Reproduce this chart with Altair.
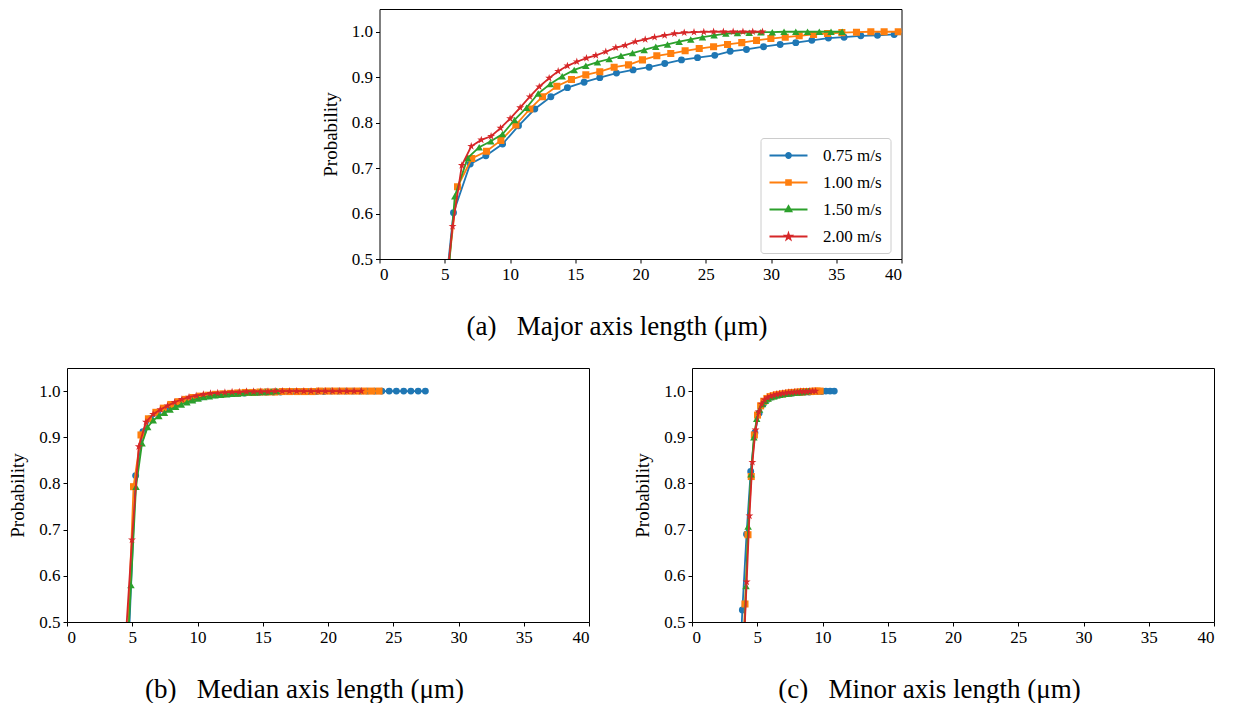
import altair as alt
import pandas as pd

FONT = "Liberation Serif"
SERIES = ["0.75 m/s", "1.00 m/s", "1.50 m/s", "2.00 m/s"]
COLORS = ["#1f77b4", "#ff7f0e", "#2ca02c", "#d62728"]
X_TICKS = [0, 5, 10, 15, 20, 25, 30, 35, 40]
Y_TICKS = [0.5, 0.6, 0.7, 0.8, 0.9, 1.0]
SP = "\u00a0\u00a0\u00a0"
CAPTIONS = ["(a)" + SP + "Major axis length (\u03bcm)",
            "(b)" + SP + "Median axis length (\u03bcm)",
            "(c)" + SP + "Minor axis length (\u03bcm)"]

# ---------------- (a) Major axis length ----------------
blue_a_x = [4.4, 5.67, 6.95, 8.15, 9.43, 10.65, 11.9, 13.13, 14.4, 15.68, 16.88, 18.16, 19.43, 20.66, 21.86, 23.14, 24.37, 25.69, 26.87, 28.12, 29.43, 30.7, 31.9, 33.13, 34.4, 35.6, 36.88, 38.16, 39.44, 40.7, 41.9]
blue_a_y = [0.252, 0.602, 0.709, 0.727, 0.753, 0.793, 0.83, 0.857, 0.877, 0.889, 0.899, 0.909, 0.916, 0.922, 0.93, 0.938, 0.943, 0.948, 0.957, 0.961, 0.967, 0.972, 0.976, 0.981, 0.986, 0.988, 0.991, 0.992, 0.994, 0.996, 0.997]
orange_a_x = [4.88, 5.98, 7.07, 8.2, 9.3, 10.45, 11.52, 12.49, 13.59, 14.71, 15.81, 16.88, 17.98, 19.08, 20.15, 21.25, 22.32, 23.42, 24.5, 25.6, 26.67, 27.76, 28.89, 29.99, 31.09, 32.16, 33.26, 34.33, 35.43, 36.55, 37.65, 38.67, 39.75, 40.85]
orange_a_y = [0.38, 0.659, 0.721, 0.737, 0.761, 0.795, 0.83, 0.857, 0.88, 0.895, 0.905, 0.912, 0.922, 0.927, 0.938, 0.947, 0.952, 0.958, 0.963, 0.967, 0.972, 0.976, 0.981, 0.985, 0.988, 0.991, 0.994, 0.996, 0.998, 0.999, 1.0, 1.0, 1.0, 1.0]
green_a_x = [4.9, 5.77, 6.75, 7.64, 8.53, 9.43, 10.35, 11.27, 12.16, 13.08, 14.0, 14.92, 15.81, 16.7, 17.6, 18.5, 19.39, 20.28, 21.17, 22.07, 22.96, 23.85, 24.75, 25.64, 26.54, 27.43, 28.33, 29.22, 30.1, 31.0, 31.9, 32.8, 33.7, 34.6, 35.45]
green_a_y = [0.33, 0.638, 0.722, 0.746, 0.759, 0.775, 0.806, 0.833, 0.864, 0.885, 0.902, 0.916, 0.925, 0.933, 0.94, 0.947, 0.953, 0.96, 0.967, 0.972, 0.978, 0.983, 0.988, 0.992, 0.996, 0.997, 0.998, 0.999, 0.999, 1.0, 1.0, 1.0, 1.0, 1.0, 1.0]
red_a_x = [4.86, 5.6, 6.31, 7.03, 7.8, 8.55, 9.27, 10.01, 10.78, 11.52, 12.24, 13.0, 13.69, 14.4, 15.12, 15.86, 16.58, 17.34, 18.11, 18.83, 19.6, 20.36, 21.08, 21.85, 22.6, 23.35, 24.1, 24.85, 25.6, 26.35, 27.1, 27.85, 28.6, 29.35]
red_a_y = [0.37, 0.572, 0.706, 0.748, 0.762, 0.77, 0.788, 0.809, 0.833, 0.857, 0.879, 0.898, 0.913, 0.925, 0.934, 0.942, 0.948, 0.956, 0.965, 0.97, 0.978, 0.983, 0.988, 0.992, 0.996, 0.998, 0.999, 0.9995, 1.0, 1.0, 1.0, 1.0, 1.0, 1.0]

# ---------------- (b) Median axis length ----------------
blue_b_x = [4.5, 5.26, 5.82, 6.37, 6.93, 7.48, 8.04, 8.59, 9.15, 9.70, 10.26, 10.81, 11.37, 11.92, 12.48, 13.03, 13.59, 14.14, 14.70, 15.25, 15.81, 16.36, 16.92, 17.47, 18.03, 18.58, 19.14, 19.69, 20.25, 20.80, 21.36, 21.91, 22.47, 23.02, 23.58, 24.13, 24.69, 25.24, 25.80, 26.35, 26.91, 27.46]
blue_b_y = [0.30, 0.817, 0.912, 0.940, 0.952, 0.960, 0.967, 0.973, 0.978, 0.983, 0.987, 0.990, 0.992, 0.993, 0.994, 0.995, 0.996, 0.997, 0.997, 0.998, 0.998, 0.998, 0.999, 0.999, 0.999, 0.999, 0.999, 0.999, 1.0, 1.0, 1.0, 1.0, 1.0, 1.0, 1.0, 1.0, 1.0, 1.0, 1.0, 1.0, 1.0, 1.0]
orange_b_x = [4.53, 5.10, 5.67, 6.24, 6.81, 7.38, 7.95, 8.52, 9.09, 9.66, 10.23, 10.80, 11.37, 11.94, 12.51, 13.08, 13.65, 14.22, 14.79, 15.36, 15.93, 16.50, 17.07, 17.64, 18.21, 18.78, 19.35, 19.92, 20.49, 21.06, 21.63, 22.20, 22.77, 23.34, 23.91]
orange_b_y = [0.38, 0.793, 0.905, 0.940, 0.954, 0.963, 0.971, 0.977, 0.982, 0.986, 0.989, 0.991, 0.993, 0.994, 0.995, 0.996, 0.997, 0.997, 0.998, 0.998, 0.998, 0.999, 0.999, 0.999, 0.999, 0.999, 1.0, 1.0, 1.0, 1.0, 1.0, 1.0, 1.0, 1.0, 1.0]
green_b_x = [4.47, 4.90, 5.29, 5.75, 6.18, 6.61, 7.04, 7.47, 7.90, 8.33, 8.76, 9.19, 9.62, 10.05, 10.48, 10.91, 11.34, 11.77, 12.20, 12.63, 13.06, 13.49, 13.92, 14.35, 14.78, 15.21, 15.64, 16.07]
green_b_y = [0.35, 0.58, 0.793, 0.887, 0.922, 0.937, 0.946, 0.953, 0.960, 0.966, 0.971, 0.976, 0.980, 0.984, 0.987, 0.989, 0.991, 0.992, 0.993, 0.994, 0.995, 0.996, 0.997, 0.997, 0.998, 0.998, 0.999, 1.0]
red_b_x = [4.42, 4.98, 5.50, 6.05, 6.60, 7.15, 7.70, 8.25, 8.80, 9.35, 9.90, 10.45, 11.00, 11.55, 12.10, 12.65, 13.20, 13.75, 14.30, 14.85, 15.40, 15.95, 16.50, 17.05, 17.60, 18.15, 18.70, 19.25, 19.80, 20.35, 20.90, 21.45, 22.00, 22.55]
red_b_y = [0.43, 0.678, 0.880, 0.933, 0.950, 0.960, 0.968, 0.976, 0.982, 0.987, 0.990, 0.993, 0.995, 0.996, 0.997, 0.998, 0.998, 0.999, 0.999, 0.999, 0.999, 1.0, 1.0, 1.0, 1.0, 1.0, 1.0, 1.0, 1.0, 1.0, 1.0, 1.0, 1.0, 1.0]

# ---------------- (c) Minor axis length ----------------
blue_c_x = [3.54, 3.86, 4.18, 4.50, 4.82, 5.14, 5.46, 5.78, 6.10, 6.42, 6.74, 7.06, 7.38, 7.70, 8.02, 8.34, 8.66, 8.98, 9.30, 9.62, 9.94, 10.26, 10.58, 10.90]
blue_c_y = [0.33, 0.526, 0.690, 0.826, 0.910, 0.952, 0.972, 0.982, 0.987, 0.990, 0.992, 0.994, 0.995, 0.996, 0.997, 0.997, 0.998, 0.998, 0.999, 0.999, 0.999, 1.0, 1.0, 1.0]
orange_c_x = [3.82, 4.06, 4.29, 4.54, 4.78, 5.02, 5.26, 5.50, 5.74, 5.98, 6.22, 6.46, 6.70, 6.94, 7.18, 7.42, 7.66, 7.90, 8.14, 8.38, 8.62, 8.86, 9.10, 9.34, 9.58, 9.82]
orange_c_y = [0.36, 0.539, 0.689, 0.815, 0.905, 0.948, 0.968, 0.978, 0.984, 0.988, 0.990, 0.992, 0.993, 0.994, 0.995, 0.996, 0.997, 0.997, 0.998, 0.998, 0.999, 0.999, 0.999, 1.0, 1.0, 1.0]
green_c_x = [3.94, 4.14, 4.30, 4.52, 4.74, 4.96, 5.18, 5.40, 5.62, 5.84, 6.06, 6.28, 6.50, 6.72, 6.94, 7.16, 7.38, 7.60, 7.82, 8.04, 8.26, 8.48, 8.70, 8.92]
green_c_y = [0.42, 0.578, 0.707, 0.820, 0.900, 0.940, 0.960, 0.972, 0.979, 0.984, 0.987, 0.989, 0.991, 0.992, 0.993, 0.994, 0.995, 0.996, 0.997, 0.997, 0.998, 0.998, 0.999, 1.0]
red_c_x = [3.96, 4.19, 4.40, 4.63, 4.87, 5.10, 5.33, 5.56, 5.79, 6.02, 6.25, 6.48, 6.71, 6.94, 7.17, 7.40, 7.63, 7.86, 8.09, 8.32, 8.55, 8.78, 9.01, 9.24, 9.47]
red_c_y = [0.44, 0.587, 0.730, 0.846, 0.916, 0.955, 0.972, 0.981, 0.986, 0.989, 0.991, 0.993, 0.994, 0.995, 0.996, 0.997, 0.997, 0.998, 0.998, 0.999, 0.999, 0.999, 1.0, 1.0, 1.0]

PANELS = [
    [(blue_a_x, blue_a_y), (orange_a_x, orange_a_y), (green_a_x, green_a_y), (red_a_x, red_a_y)],
    [(blue_b_x, blue_b_y), (orange_b_x, orange_b_y), (green_b_x, green_b_y), (red_b_x, red_b_y)],
    [(blue_c_x, blue_c_y), (orange_c_x, orange_c_y), (green_c_x, green_c_y), (red_c_x, red_c_y)],
]

# ---------------- marker styles ----------------
STAR_PTS = [(0, -1), (0.2245, -0.309), (0.951, -0.309), (0.363, 0.118), (0.588, 0.809),
            (0, 0.382), (-0.588, 0.809), (-0.363, 0.118), (-0.951, -0.309), (-0.2245, -0.309)]


def star_path(s):
    return "M" + "L".join(f"{x * s:.4f},{y * s:.4f}" for x, y in STAR_PTS) + "Z"


MARKERS = [("circle", 48), ("square", 50), ("triangle-up", 56), (star_path(1.0), 70)]

# legend symbol: nominal box 17 px (scale 8.5 px per unit); line spans 38 px
LINE = "M-2.235,0L2.235,0"
rc = 0.28
rs = 0.27
LEGEND_PATHS = [
    LINE + f"M{-rc},0A{rc},{rc},0,1,0,{rc},0A{rc},{rc},0,1,0,{-rc},0Z",
    LINE + f"M{-rs},{-rs}L{rs},{-rs}L{rs},{rs}L{-rs},{rs}Z",
    LINE + "M0,-0.38L0.33,0.2L-0.33,0.2Z",
    LINE + star_path(0.33),
]


def panel(idx, height, legend):
    xenc = alt.X("x:Q", scale=alt.Scale(domain=[0, 40], nice=False, zero=False),
                 axis=alt.Axis(values=X_TICKS, format="d", title=CAPTIONS[idx],
                               titleX=237, titleAlign="center", titlePadding=31,
                               titleFontSize=27))
    yenc = alt.Y("y:Q", scale=alt.Scale(domain=[0.5, 1.05], nice=False, zero=False),
                 axis=alt.Axis(values=Y_TICKS, format=".1f", title="Probability",
                               titleFontSize=19, titlePadding=11))
    layers = []
    for i, (xs, ys) in enumerate(PANELS[idx]):
        df = pd.DataFrame({"x": xs, "y": ys})
        base = alt.Chart(df).encode(x=xenc, y=yenc)
        shape, size = MARKERS[i]
        layers.append(base.mark_line(color=COLORS[i], strokeWidth=1.8, clip=True))
        layers.append(base.mark_point(shape=shape, size=size, filled=True, opacity=1,
                                      color=COLORS[i], strokeWidth=0, clip=True))
    if legend:
        leg = alt.Legend(title=None, orient="none", legendX=381, legendY=129,
                         padding=8, labelFont=FONT, labelFontSize=17, labelColor="black",
                         symbolOffset=10.5, labelOffset=25, rowPadding=9, symbolSize=289,
                         symbolStrokeWidth=2, symbolOpacity=1,
                         strokeColor="#cccccc", fillColor="white", cornerRadius=3,
                         labelLimit=300)
        dummy = (
            alt.Chart(pd.DataFrame({"series": SERIES}))
            .transform_filter("false")
            .mark_point(filled=True, size=289, strokeWidth=2, opacity=1)
            .encode(
                fill=alt.Fill("series:N", scale=alt.Scale(domain=SERIES, range=COLORS), legend=leg),
                stroke=alt.Stroke("series:N", scale=alt.Scale(domain=SERIES, range=COLORS), legend=leg),
                shape=alt.Shape("series:N", scale=alt.Scale(domain=SERIES, range=LEGEND_PATHS), legend=leg),
            )
        )
        layers.append(dummy)
    return alt.layer(*layers).properties(width=522, height=height)


top = panel(0, 250, True)
bottom = alt.hconcat(panel(1, 254, False), panel(2, 254, False), spacing=43)

chart = (
    alt.vconcat(top, bottom, spacing=27, center=True)
    .resolve_legend(fill="independent", stroke="independent", shape="independent")
    .properties(padding=0, background="white")
    .configure(font=FONT)
    .configure_view(stroke="black", strokeWidth=1)
    .configure_axis(labelFont=FONT, titleFont=FONT, labelFontSize=17, labelColor="black",
                    titleColor="black", titleFontWeight="normal", tickColor="black",
                    tickSize=4, tickWidth=1, domain=False, grid=False, labelPadding=3)
)

chart.save("out.html", embed_options={"renderer": "svg", "actions": False})
